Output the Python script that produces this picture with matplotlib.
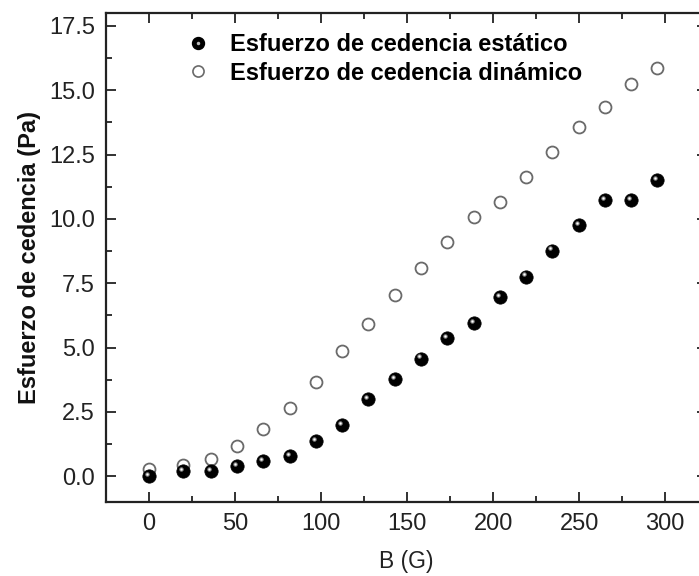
import numpy as np
import matplotlib
matplotlib.use("Agg")
import matplotlib.pyplot as plt
from matplotlib.transforms import offset_copy
from matplotlib.ticker import MultipleLocator

plt.rcParams['font.family'] = ['Liberation Sans', 'DejaVu Sans']

# datos
campo_B = [0, 20, 36, 51, 66, 82, 97, 112, 127, 143, 158, 173, 189, 204, 219, 234, 250, 265, 280, 295]
estatico = [0.0, 0.19, 0.2, 0.39, 0.6, 0.78, 1.38, 1.98, 2.99, 3.78, 4.57, 5.37, 5.96, 6.96,
            7.76, 8.77, 9.75, 10.74, 10.74, 11.52]
dinamico = [0.27, 0.43, 0.66, 1.16, 1.82, 2.67, 3.66, 4.85, 5.91, 7.04, 8.08, 9.09, 10.09, 10.65,
            11.63, 12.58, 13.57, 14.35, 15.25, 15.87]

fig = plt.figure(figsize=(6.99, 5.76), dpi=100)
# el eje derecho queda fuera de la imagen, como en el original
ax = fig.add_axes([0.1517, 0.1285, 0.86, 0.849])

# dinamico: circulos abiertos
ax.plot(campo_B, dinamico, ls="none", marker="o", ms=8.6, mfc="white", mec="#6a6a6a", mew=1.3,
        zorder=3)
# estatico: esferas negras con brillo
ax.plot(campo_B, estatico, ls="none", marker="o", ms=9.6, mfc="black", mec="black", mew=0.5,
        zorder=4)
brillo = offset_copy(ax.transData, fig=fig, x=-2.0, y=2.2, units="dots")
ax.plot(campo_B, estatico, ls="none", marker="o", ms=3.2, mfc="#8a8a8a", mec="none",
        transform=brillo, zorder=5)
ax.plot(campo_B, estatico, ls="none", marker="o", ms=1.6, mfc="white", mec="none",
        transform=brillo, zorder=6)

# leyenda
h1 = ax.plot([], [], ls="none", marker="o", ms=8.6, mfc="black", mec="black")[0]
h1b = ax.plot([], [], ls="none", marker="o", ms=2.5, mfc="#bbbbbb", mec="none")[0]
h2 = ax.plot([], [], ls="none", marker="o", ms=8.0, mfc="white", mec="#6a6a6a", mew=1.2)[0]
ax.legend([(h1, h1b), h2], ["Esfuerzo de cedencia estático", "Esfuerzo de cedencia dinámico"],
          loc="upper left", bbox_to_anchor=(0.133, 0.958), frameon=False,
          prop={"weight": "bold", "size": 17}, handletextpad=0.86, labelspacing=0.22,
          handlelength=1.0, borderpad=0, borderaxespad=0)

ax.set_xlim(-25, 324.4)
ax.set_ylim(-1, 18)
ax.xaxis.set_major_locator(MultipleLocator(50))
ax.xaxis.set_minor_locator(MultipleLocator(25))
ax.yaxis.set_major_locator(MultipleLocator(2.5))
ax.yaxis.set_minor_locator(MultipleLocator(1.25))
ax.yaxis.set_major_formatter(matplotlib.ticker.FormatStrFormatter("%.1f"))

ax.tick_params(which="both", direction="in", top=True, right=True, width=1.3, color="#222222",
               labelsize=17, labelcolor="#222222")
ax.tick_params(which="major", length=7.5, pad=8)
ax.tick_params(which="minor", length=4)
for s in ax.spines.values():
    s.set_linewidth(1.6)
    s.set_color("#222222")

ax.set_xlabel("B (G)", fontsize=16.5, color="#222222", labelpad=11)
ax.set_ylabel("Esfuerzo de cedencia (Pa)", fontsize=17, fontweight="bold", color="#111111",
              labelpad=5.5)

fig.savefig("out.png", dpi=100)
